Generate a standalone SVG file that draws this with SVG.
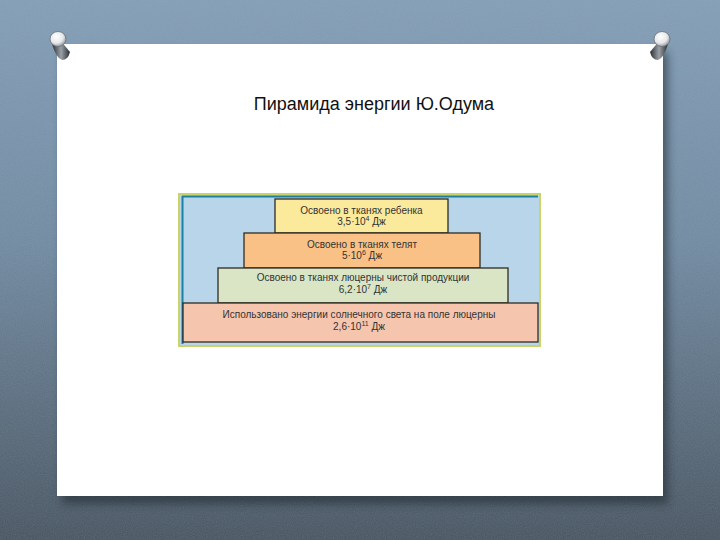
<svg xmlns="http://www.w3.org/2000/svg" width="720" height="540" viewBox="0 0 720 540">
  <defs>
    <linearGradient id="bg" x1="0" y1="0" x2="0" y2="1">
      <stop offset="0" stop-color="#819db6"/>
      <stop offset="0.45" stop-color="#6f89a0"/>
      <stop offset="1" stop-color="#46535f"/>
    </linearGradient>
    <filter id="noise" x="0" y="0" width="100%" height="100%">
      <feTurbulence type="fractalNoise" baseFrequency="0.9" numOctaves="2" seed="3" result="n"/>
      <feColorMatrix in="n" type="matrix" values="0 0 0 0 0.5  0 0 0 0 0.55  0 0 0 0 0.6  0 0 0 0.18 0"/>
    </filter>
    <filter id="shadow" x="-10%" y="-10%" width="120%" height="120%">
      <feGaussianBlur stdDeviation="4"/>
    </filter>
    <radialGradient id="pinHead" cx="0.4" cy="0.35" r="0.7">
      <stop offset="0" stop-color="#ffffff"/>
      <stop offset="0.6" stop-color="#e6e8ea"/>
      <stop offset="1" stop-color="#8a9096"/>
    </radialGradient>
    <linearGradient id="pinShaft" x1="0" y1="0" x2="1" y2="0">
      <stop offset="0" stop-color="#2a2e33"/>
      <stop offset="0.5" stop-color="#9aa0a6"/>
      <stop offset="1" stop-color="#2a2e33"/>
    </linearGradient>
  </defs>
  <style>
    .box { stroke: #2e2b22; stroke-width: 1.3; }
    .t { font-family: "Liberation Sans", Arial, sans-serif; font-size: 10px; fill: #333333; text-anchor: middle; }
    .sup { font-size: 7px; }
    .title { font-family: "Liberation Sans", Arial, sans-serif; font-size: 18px; fill: #111111; text-anchor: middle; }
  </style>

  <!-- background -->
  <rect x="0" y="0" width="720" height="540" fill="url(#bg)"/>
  <rect x="0" y="0" width="720" height="540" filter="url(#noise)"/>

  <!-- paper shadow and paper -->
  <rect x="62" y="52" width="606" height="452" fill="#1e262e" opacity="0.55" filter="url(#shadow)"/>
  <rect x="57" y="44" width="606" height="452" fill="#ffffff"/>

  <!-- pins -->
  <g id="pin-left">
    <path d="M52 44 L60 40 L70 52 Q68 60 62 60 Q56 58 52 44 Z" fill="url(#pinShaft)"/>
    <ellipse cx="58" cy="39" rx="8" ry="7.5" fill="url(#pinHead)" stroke="#6a7076" stroke-width="0.8"/>
  </g>
  <g id="pin-right">
    <path d="M668 44 L660 40 L650 52 Q652 60 658 60 Q664 58 668 44 Z" fill="url(#pinShaft)"/>
    <ellipse cx="662" cy="39" rx="8" ry="7.5" fill="url(#pinHead)" stroke="#6a7076" stroke-width="0.8"/>
  </g>

  <!-- title -->
  <text class="title" x="374" y="110">Пирамида энергии Ю.Одума</text>

  <!-- pyramid frame -->
  <g id="frame">
    <rect x="179" y="194" width="361" height="152" fill="#b9d5ea" stroke="#c9d36a" stroke-width="2"/>
    <line x1="182.5" y1="196" x2="182.5" y2="344" stroke="#1f7f9f" stroke-width="2"/>
    <line x1="182" y1="196.5" x2="538" y2="196.5" stroke="#1f7f9f" stroke-width="2"/>
  </g>

  <g id="level-boy">
    <rect class="box" x="275" y="199" width="173" height="34" fill="#fbe99c"/>
    <text class="t" x="361.5" y="214">Освоено в тканях ребенка</text>
    <text class="t" x="361.5" y="225">3,5·10<tspan class="sup" dy="-4">4</tspan><tspan dy="4"> Дж</tspan></text>
  </g>

  <g id="level-calves">
    <rect class="box" x="244" y="233" width="236" height="35" fill="#f9c186"/>
    <text class="t" x="362" y="248">Освоено в тканях телят</text>
    <text class="t" x="362" y="259">5·10<tspan class="sup" dy="-4">6</tspan><tspan dy="4"> Дж</tspan></text>
  </g>

  <g id="level-alfalfa">
    <rect class="box" x="218" y="268" width="290" height="35" fill="#d9e5c5"/>
    <text class="t" x="363" y="281">Освоено в тканях люцерны чистой продукции</text>
    <text class="t" x="363" y="293">6,2·10<tspan class="sup" dy="-4">7</tspan><tspan dy="4"> Дж</tspan></text>
  </g>

  <g id="level-sun">
    <rect class="box" x="183" y="303" width="355" height="39" fill="#f5c5ae"/>
    <text class="t" x="359" y="318">Использовано энергии солнечного света на поле люцерны</text>
    <text class="t" x="359" y="330">2,6·10<tspan class="sup" dy="-4">11</tspan><tspan dy="4"> Дж</tspan></text>
  </g>
</svg>
